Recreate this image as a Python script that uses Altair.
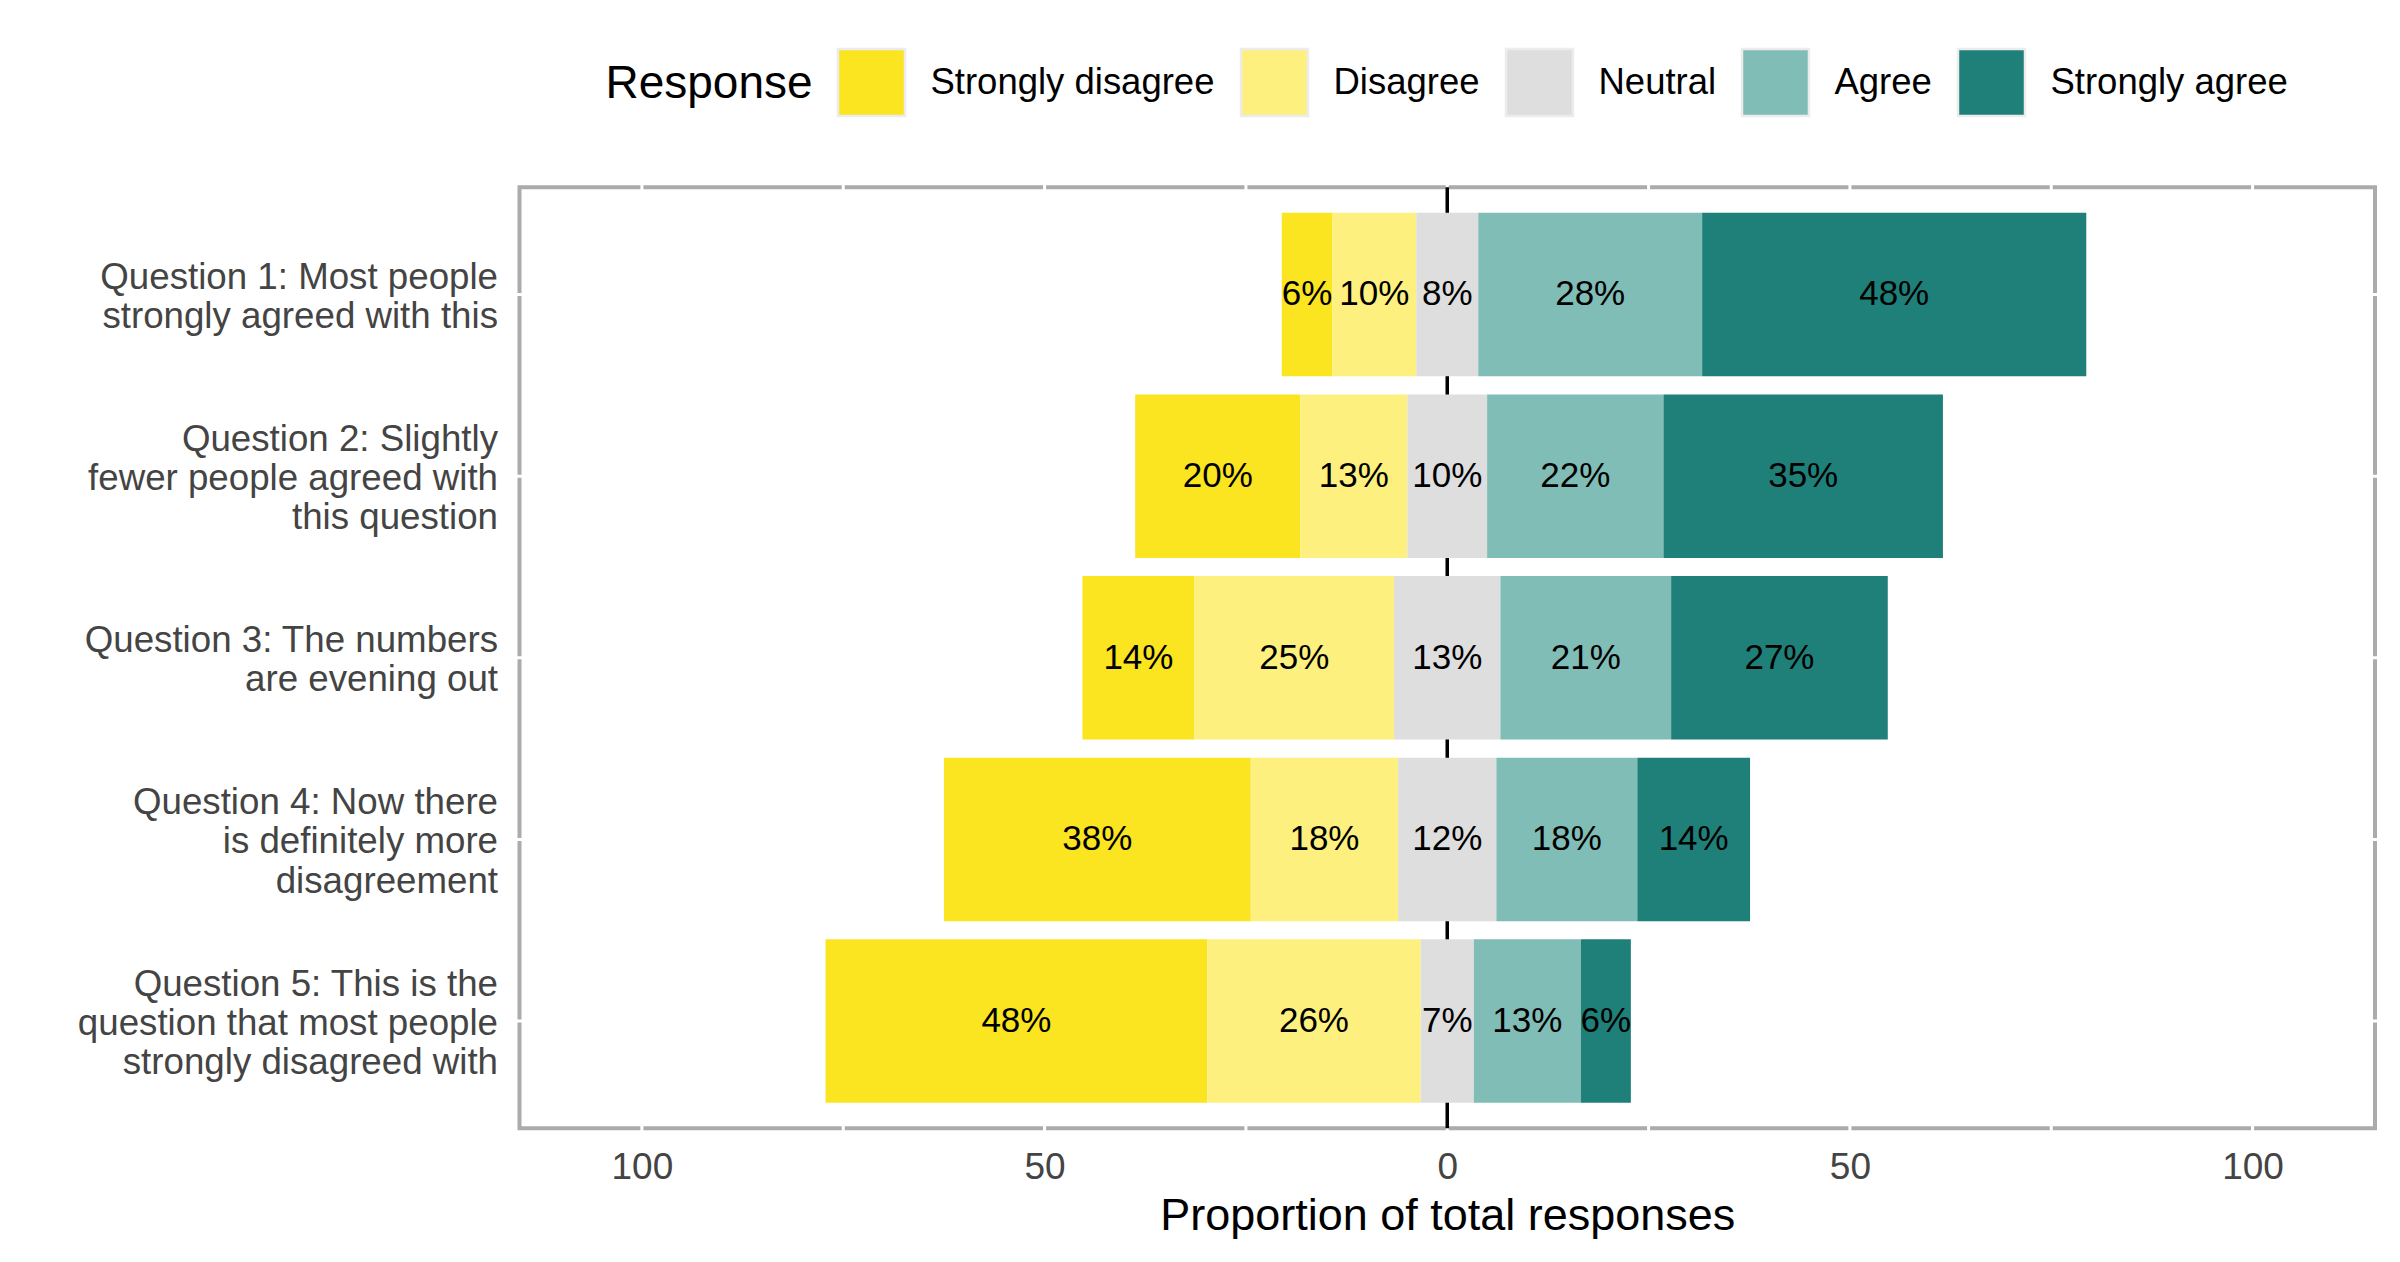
import altair as alt
import pandas as pd

questions = [
    "Question 1: Most people|strongly agreed with this",
    "Question 2: Slightly|fewer people agreed with|this question",
    "Question 3: The numbers|are evening out",
    "Question 4: Now there|is definitely more|disagreement",
    "Question 5: This is the|question that most people|strongly disagreed with",
]
responses = ["Strongly disagree", "Disagree", "Neutral", "Agree", "Strongly agree"]

# proportions (%)
strongly_disagree = [6.3, 20.5, 13.9, 38.1, 47.4]
disagree = [10.4, 13.3, 24.8, 18.3, 26.5]
neutral = [7.7, 9.9, 13.2, 12.2, 6.6]
agree = [27.8, 21.9, 21.2, 17.5, 13.3]
strongly_agree = [47.7, 34.7, 26.9, 14.0, 6.2]

# labels printed on the bars
strongly_disagree_lab = [6, 20, 14, 38, 48]
disagree_lab = [10, 13, 25, 18, 26]
neutral_lab = [8, 10, 13, 12, 7]
agree_lab = [28, 22, 21, 18, 13]
strongly_agree_lab = [48, 35, 27, 14, 6]

colors = ["#FBE420", "#FDF07F", "#DEDEDE", "#80BDB6", "#1F7F79"]
x_ticks = [-100, -50, 0, 50, 100]
grid_x = [-100, -75, -50, -25, 0, 25, 50, 75, 100]

W, H = 1855.5, 941
LH = 39.2
SHIFT = 2.9

rows = []
series = [strongly_disagree, disagree, neutral, agree, strongly_agree]
labels = [strongly_disagree_lab, disagree_lab, neutral_lab, agree_lab, strongly_agree_lab]
for qi, q in enumerate(questions):
    vals = [s[qi] for s in series]
    start = -(vals[0] + vals[1] + vals[2] / 2)
    for ri, r in enumerate(responses):
        end = start + vals[ri]
        rows.append({"question": q, "response": r, "start": start, "end": end,
                     "mid": (start + end) / 2, "label": f"{labels[ri][qi]}%"})
        start = end
df = pd.DataFrame(rows)

xscale = alt.Scale(domain=[-115.2, 115.2], nice=False, zero=False)
yscale = alt.Scale(domain=questions, paddingInner=0.1, paddingOuter=0.14)

base = alt.Chart(df)

grid_v = alt.Chart(pd.DataFrame({"g": grid_x})).mark_rule(color="white", strokeWidth=3).encode(
    x=alt.X("g:Q", scale=xscale),
    y=alt.value(-4), y2=alt.value(H + 4),
)
grid_h = alt.Chart(pd.DataFrame({"question": questions})).mark_rule(color="white", strokeWidth=3).encode(
    y=alt.Y("question:N", scale=yscale),
    x=alt.value(-4), x2=alt.value(W + 4),
)
zero = alt.Chart(pd.DataFrame({"z": [0]})).mark_rule(color="black", strokeWidth=3.5).encode(
    x=alt.X("z:Q", scale=xscale),
    y=alt.value(0), y2=alt.value(H),
)

bars = base.mark_bar().encode(
    x=alt.X("start:Q", scale=xscale, title="Proportion of total responses",
            axis=alt.Axis(values=x_ticks, labelExpr="toString(abs(datum.value))",
                          grid=False, ticks=False, domain=False, labelPadding=21,
                          labelFontSize=37, labelColor="#444444",
                          titleFontSize=45, titleColor="black", titleFontWeight="normal",
                          titleBaseline="alphabetic", titleY=101.5)),
    x2="end:Q",
    y=alt.Y("question:N", scale=yscale, title=None,
            axis=alt.Axis(labelExpr="split(datum.label, '|')", labelLimit=2000,
                          grid=False, ticks=False, domain=False, labelPadding=22,
                          labelFontSize=36.7, labelLineHeight=LH, labelColor="#444444",
                          labelOffset={"condition": {"test": "length(split(datum.label, '|')) >= 3",
                                                     "value": -LH + SHIFT},
                                       "value": -LH / 2 + SHIFT})),
    color=alt.Color("response:N", scale=alt.Scale(domain=responses, range=colors),
                    legend=alt.Legend(title="Response", orient="none", direction="horizontal",
                                      columns=5, legendX=86, legendY=-140, padding=0,
                                      titleOrient="left", titleAnchor="middle",
                                      titleBaseline="middle", titleFontSize=46,
                                      titleFontWeight="normal", titleColor="black",
                                      titlePadding=23, titleLimit=1000,
                                      labelFontSize=36.5, labelColor="black",
                                      symbolType="square", symbolSize=4489,
                                      symbolStrokeColor="#ECECEC", symbolStrokeWidth=2.5,
                                      labelOffset=24, columnPadding=20, labelLimit=1000)),
)

texts = base.mark_text(fontSize=35, color="black", align="center", baseline="middle").encode(
    x=alt.X("mid:Q", scale=xscale),
    y=alt.Y("question:N", scale=yscale),
    text="label:N",
)

chart = alt.layer(grid_v, grid_h, zero, bars, texts).properties(
    width=W, height=H,
    autosize=alt.AutoSizeParams(type="none"),
    padding={"left": 511.5, "top": 179.3, "right": 12, "bottom": 120},
).configure(
    font="Liberation Sans",
).configure_view(
    stroke="#ABABAB", strokeWidth=4,
)

chart.save("out.html", embed_options={"renderer": "svg", "actions": False})
